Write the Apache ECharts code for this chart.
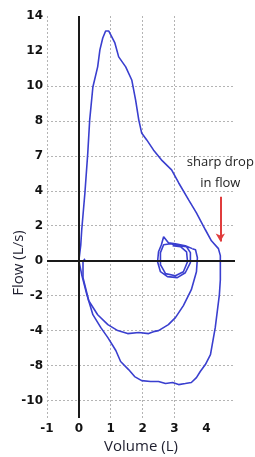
<!DOCTYPE html>
<html>
<head>
<meta charset="utf-8">
<script src="https://cdn.jsdelivr.net/npm/echarts@6/dist/echarts.min.js"></script>
<style>
  html, body { margin: 0; padding: 0; background: #fff; }
  #chart { width: 255px; height: 457px; }
</style>
</head>
<body>
<div id="chart"></div>
<script>
// tick positions and the labels printed at them (the picture's own labels)
const xTickValues = [-1, 0, 1, 2, 3, 4];
const xTickLabels = ['-1', '0', '1', '2', '3', '4'];
const yTickValues = [-8, -6, -4, -2, 0, 2, 4, 6, 8, 10, 12, 14];
const yTickLabels = ['-10', '-8', '-4', '-2', '0', '2', '4', '7', '8', '10', '12', '14'];
const yGridValues = [-8, -6, -4, -2, 0, 2, 4, 6, 8, 10, 12];

// [volume, flow] - forced expiration + inspiration loop
const forcedLoop = [
  [0, 0], [0.06, 0.91], [0.09, 1.77], [0.19, 3.89], [0.28, 6.17], [0.34, 8.06],
  [0.44, 9.94], [0.59, 11.09], [0.66, 12.06], [0.75, 12.74], [0.84, 13.14],
  [0.94, 13.14], [1.0, 13.03], [1.13, 12.46], [1.25, 11.66], [1.47, 11.09],
  [1.66, 10.34], [1.78, 9.2], [1.88, 8.06], [1.97, 7.31], [2.13, 6.91],
  [2.34, 6.34], [2.59, 5.77], [2.91, 5.2], [3.13, 4.46], [3.44, 3.49],
  [3.69, 2.74], [3.97, 1.77], [4.16, 1.14], [4.38, 0.69], [4.44, 0.29],
  [4.44, 0], [4.44, -1.09], [4.41, -1.94], [4.28, -3.83], [4.13, -5.37],
  [3.97, -5.94], [3.81, -6.34], [3.69, -6.69], [3.53, -6.97], [3.34, -7.03],
  [3.13, -7.09], [2.94, -6.97], [2.72, -7.03], [2.5, -6.91], [2.25, -6.91],
  [1.97, -6.86], [1.75, -6.63], [1.56, -6.23], [1.31, -5.77], [1.16, -5.14],
  [0.91, -4.4], [0.69, -3.83], [0.44, -3.09], [0.25, -1.94], [0.09, -0.8], [0, 0]
];

// second, shallower inspiration curve leading into the tidal breaths
const innerLoop = [
  [0.19, 0.11], [0.13, -0.06], [0.13, -0.97], [0.31, -2.29], [0.59, -3.09],
  [0.91, -3.66], [1.22, -4.0], [1.53, -4.17], [1.88, -4.11], [2.19, -4.17],
  [2.34, -4.06], [2.5, -4.0], [2.81, -3.66], [3.03, -3.26], [3.28, -2.57],
  [3.53, -1.66], [3.69, -0.63], [3.72, 0.17], [3.66, 0.63], [3.56, 0.69]
];

// tidal breathing loops
const tidalLoop = [
  [3.56, 0.69], [3.34, 0.86], [3.03, 0.97], [2.81, 1.03], [2.66, 1.37],
  [2.59, 0.91], [2.5, 0.51], [2.47, -0.06], [2.56, -0.63], [2.78, -0.91],
  [3.09, -0.97], [3.34, -0.69], [3.5, -0.11], [3.5, 0.46], [3.38, 0.8],
  [3.13, 0.86], [2.88, 0.97], [2.66, 0.91], [2.56, 0.46], [2.56, -0.23],
  [2.72, -0.74], [3.03, -0.86], [3.28, -0.63], [3.41, -0.06], [3.38, 0.51],
  [3.19, 0.8], [2.94, 0.86]
];

// annotation arrow: [volume, flow] start and end
const arrowStart = [4.44, 3.66];
const arrowEnd = [4.44, 1.1];

const chart = echarts.init(document.getElementById('chart'));

const lineColor = '#3a3fcf';
const tickFont = { fontFamily: 'DejaVu Sans', fontWeight: 'bold', fontSize: 12, color: '#111' };
const nameFont = { fontFamily: 'Open Sans', fontSize: 15, color: '#1e1e2e' };
const gridLine = { show: true, showMinLine: true, showMaxLine: false, lineStyle: { color: '#b4b4b4', type: [2, 2], width: 1 } };

const option = {
  animation: false,
  backgroundColor: '#fff',
  grid: { left: 47, right: 20, top: 16, bottom: 39, containLabel: false, outerBoundsMode: 'none' },
  xAxis: {
    type: 'value',
    min: -1,
    max: 4.9,
    name: 'Volume (L)',
    nameLocation: 'middle',
    nameGap: 21,
    nameMoveOverlap: false,
    nameTextStyle: nameFont,
    axisLine: { show: false },
    axisTick: { show: false, customValues: xTickValues },
    axisLabel: Object.assign({
      customValues: xTickValues,
      margin: 5,
      formatter: (v) => xTickLabels[xTickValues.indexOf(v)]
    }, tickFont),
    splitLine: gridLine
  },
  yAxis: {
    type: 'value',
    min: -9,
    max: 14,
    name: 'Flow (L/s)',
    nameLocation: 'middle',
    nameGap: 21,
    nameMoveOverlap: false,
    nameTextStyle: Object.assign({ padding: [0, 92, 0, 0] }, nameFont),
    axisLine: { show: false },
    axisTick: { show: false, customValues: yGridValues },
    axisLabel: Object.assign({
      customValues: yTickValues,
      margin: 4,
      formatter: (v) => yTickLabels[yTickValues.indexOf(v)]
    }, tickFont),
    splitLine: gridLine
  },
  series: [
    {
      name: 'forced',
      type: 'line',
      data: forcedLoop,
      showSymbol: false,
      lineStyle: { color: lineColor, width: 1.6 },
      z: 3,
      markLine: {
        silent: true,
        symbol: 'none',
        label: { show: false },
        data: [
          { xAxis: 0, lineStyle: { color: '#1a1a1a', width: 2, type: 'solid' } },
          { yAxis: 0, lineStyle: { color: '#1a1a1a', width: 2, type: 'solid' } },
          [
            {
              coord: arrowStart,
              symbol: 'none',
              lineStyle: { color: '#e03c3c', width: 2, type: 'solid' },
              label: {
                show: true,
                position: 'start',
                distance: 3,
                formatter: 'sharp drop\nin flow',
                fontFamily: 'Open Sans',
                fontSize: 13,
                lineHeight: 21,
                color: '#222'
              }
            },
            { coord: arrowEnd, symbol: 'arrow', symbolSize: [7, 8] }
          ]
        ]
      }
    },
    {
      name: 'inner',
      type: 'line',
      data: innerLoop,
      showSymbol: false,
      lineStyle: { color: lineColor, width: 1.6 },
      z: 3
    },
    {
      name: 'tidal',
      type: 'line',
      data: tidalLoop,
      showSymbol: false,
      lineStyle: { color: lineColor, width: 1.6 },
      z: 3
    }
  ]
};

chart.setOption(option);
</script>
</body>
</html>
